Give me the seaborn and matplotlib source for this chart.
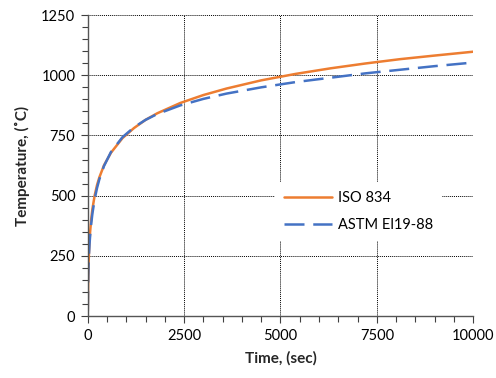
import matplotlib
matplotlib.use("Agg")
import matplotlib.pyplot as plt
import pandas as pd
import seaborn as sns
from matplotlib.ticker import MultipleLocator

# time in seconds, temperatures (deg C)
time_sec = [0, 10, 20, 30, 45, 60, 90, 120, 180, 240, 300, 420, 600, 900, 1200,
            1500, 1800, 2400, 3000, 3600, 4500, 5400, 6300, 7200, 8100, 9000, 10000]
iso_834 = [20, 147, 215, 261, 312, 349, 404, 445, 502, 544, 576, 626, 678, 739, 781,
           815, 842, 885, 918, 945, 979, 1006, 1029, 1049, 1067, 1082, 1098]
astm_e119 = [20, 165, 217, 255, 298, 332, 385, 426, 487, 532, 568, 623, 681, 743, 784,
             815, 839, 875, 902, 924, 950, 972, 990, 1008, 1023, 1038, 1053]

series_names = ["ISO 834", "ASTM El19-88"]
series_colors = ["#ED7D31", "#4472C4"]

df = pd.DataFrame({
    "time": time_sec * 2,
    "temp": iso_834 + astm_e119,
    "curve": [series_names[0]] * len(time_sec) + [series_names[1]] * len(time_sec),
})

sns.set_style("ticks")
plt.rcParams["font.family"] = ["Lato", "DejaVu Sans"]
plt.rcParams["text.color"] = "black"
plt.rcParams["xtick.labelcolor"] = "black"
plt.rcParams["ytick.labelcolor"] = "black"

fig = plt.figure(figsize=(4.96, 3.78), dpi=100)
ax = fig.add_axes([0.177, 0.164, 0.777, 0.796])

sns.lineplot(
    data=df, x="time", y="temp", hue="curve", style="curve",
    palette=dict(zip(series_names, series_colors)),
    dashes={series_names[0]: "", series_names[1]: (8, 3.5)},
    linewidth=1.8, ax=ax,
)

ax.set_xlim(0, 10000)
ax.set_ylim(0, 1250)
ax.xaxis.set_major_locator(MultipleLocator(2500))
ax.xaxis.set_minor_locator(MultipleLocator(500))
ax.yaxis.set_major_locator(MultipleLocator(250))
ax.yaxis.set_minor_locator(MultipleLocator(50))
ax.grid(True, which="major", color="black", linestyle=(0, (1, 1)), linewidth=0.7)
ax.tick_params(which="major", direction="out", length=5, width=0.8, color="#404040",
               labelsize=10.5, pad=4)
ax.tick_params(which="minor", direction="out", length=4, width=0.8, color="#404040")

sns.despine(ax=ax)
for side in ["left", "bottom"]:
    ax.spines[side].set_color("#555555")
    ax.spines[side].set_linewidth(1.0)

ax.set_xlabel("Time, (sec)", fontsize=11, fontweight="bold", labelpad=6)
ax.set_ylabel("Temperature, (\u02daC)", fontsize=11, fontweight="bold", labelpad=8)

leg = ax.legend(loc="center", bbox_to_anchor=(0.703, 0.347), frameon=True,
                fontsize=10.5, handlelength=3.3, handletextpad=0.4,
                labelspacing=0.9, borderpad=0.6)
leg.get_frame().set_facecolor("white")
leg.get_frame().set_edgecolor("none")
leg.get_frame().set_alpha(1)
leg.get_frame().set_boxstyle("square", pad=0)

fig.savefig("out.png", dpi=100)
